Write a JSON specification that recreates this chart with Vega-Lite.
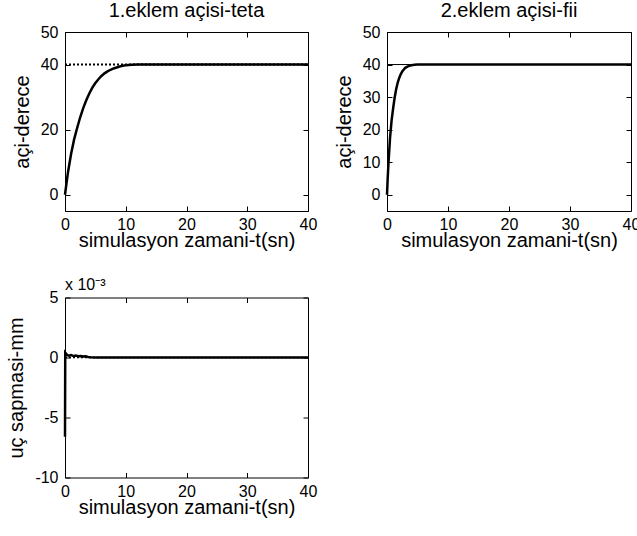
{
  "$schema": "https://vega.github.io/schema/vega-lite/v6.json",
  "background": "white",
  "padding": {"left": 6, "top": 0, "right": 0, "bottom": 0},
  "config": {
    "font": "Liberation Sans",
    "view": {"stroke": "black", "strokeWidth": 1},
    "axis": {"grid": false, "domain": false, "tickColor": "black", "tickSize": -5, "labelColor": "black", "labelFontSize": 16, "labelFont": "Liberation Sans", "titleFont": "Liberation Sans", "titleFontSize": 20, "titleFontWeight": "normal", "titleColor": "black", "labelPadding": 12, "labelFlush": false, "labelOverlap": false, "labelExpr": "'' + datum.value"},
    "axisX": {"titlePadding": -2, "labelPadding": 10.5},
    "axisY": {"titlePadding": 8},
    "title": {"fontSize": 20, "fontWeight": "normal", "color": "black", "font": "Liberation Sans", "offset": 3.5, "frame": "group"}
  },
  "datasets": {
    "teta": [
      {"t": 0, "v": 40, "s": "ref"}, {"t": 40, "v": 40, "s": "ref"},
      {"t": 0, "v": 0, "s": "out"}, {"t": 0.25, "v": 3.6, "s": "out"}, {"t": 0.5, "v": 7.0, "s": "out"}, {"t": 1, "v": 12.5, "s": "out"}, {"t": 1.5, "v": 17.0, "s": "out"}, {"t": 2, "v": 20.5, "s": "out"}, {"t": 2.5, "v": 23.8, "s": "out"}, {"t": 3, "v": 26.6, "s": "out"}, {"t": 3.5, "v": 29.0, "s": "out"}, {"t": 4, "v": 31.1, "s": "out"}, {"t": 4.5, "v": 32.9, "s": "out"}, {"t": 5, "v": 34.3, "s": "out"}, {"t": 5.5, "v": 35.5, "s": "out"}, {"t": 6, "v": 36.5, "s": "out"}, {"t": 6.5, "v": 37.3, "s": "out"}, {"t": 7, "v": 37.9, "s": "out"}, {"t": 7.5, "v": 38.4, "s": "out"}, {"t": 8, "v": 38.8, "s": "out"}, {"t": 8.5, "v": 39.1, "s": "out"}, {"t": 9, "v": 39.4, "s": "out"}, {"t": 9.5, "v": 39.6, "s": "out"}, {"t": 10, "v": 39.75, "s": "out"}, {"t": 10.5, "v": 39.85, "s": "out"}, {"t": 11, "v": 39.92, "s": "out"}, {"t": 12, "v": 40, "s": "out"}, {"t": 20, "v": 40, "s": "out"}, {"t": 30, "v": 40, "s": "out"}, {"t": 40, "v": 40, "s": "out"}
    ],
    "fii": [
      {"t": 0, "v": 40, "s": "ref"}, {"t": 40, "v": 40, "s": "ref"},
      {"t": 0, "v": 0, "s": "out"}, {"t": 0.1, "v": 4.5, "s": "out"}, {"t": 0.25, "v": 10, "s": "out"}, {"t": 0.5, "v": 17.5, "s": "out"}, {"t": 0.75, "v": 22.8, "s": "out"}, {"t": 1, "v": 26.5, "s": "out"}, {"t": 1.25, "v": 29.8, "s": "out"}, {"t": 1.5, "v": 32.4, "s": "out"}, {"t": 1.75, "v": 34.4, "s": "out"}, {"t": 2, "v": 35.9, "s": "out"}, {"t": 2.25, "v": 37.0, "s": "out"}, {"t": 2.5, "v": 37.9, "s": "out"}, {"t": 3, "v": 39.0, "s": "out"}, {"t": 3.5, "v": 39.5, "s": "out"}, {"t": 4, "v": 39.8, "s": "out"}, {"t": 4.5, "v": 39.95, "s": "out"}, {"t": 5, "v": 40, "s": "out"}, {"t": 40, "v": 40, "s": "out"}
    ],
    "sapma": [
      {"t": 0, "v": 0, "s": "ref"}, {"t": 40, "v": 0, "s": "ref"},
      {"t": 0, "v": -6.6, "s": "out"}, {"t": 0.04, "v": 0.4, "s": "out"}, {"t": 0.2, "v": 0.3, "s": "out"}, {"t": 0.4, "v": 0.2, "s": "out"}, {"t": 0.7, "v": 0.15, "s": "out"}, {"t": 1.0, "v": 0.2, "s": "out"}, {"t": 1.4, "v": 0.12, "s": "out"}, {"t": 1.8, "v": 0.16, "s": "out"}, {"t": 2.2, "v": 0.1, "s": "out"}, {"t": 2.6, "v": 0.13, "s": "out"}, {"t": 3.0, "v": 0.08, "s": "out"}, {"t": 3.4, "v": 0.1, "s": "out"}, {"t": 3.8, "v": 0.05, "s": "out"}, {"t": 4.2, "v": 0.02, "s": "out"}, {"t": 5, "v": 0, "s": "out"}, {"t": 40, "v": 0, "s": "out"}
    ]
  },
  "columns": 2,
  "spacing": {"row": 24.5, "column": 15},
  "concat": [
    {
      "width": 243, "height": 179,
      "title": {"text": "1.eklem açisi-teta", "fontSize": 20, "frame": "group", "offset": 3.5},
      "data": {"name": "teta"},
      "resolve": {"axis": {"x": "independent", "y": "independent"}},
      "layer": [
        {
          "transform": [{"filter": "datum.s == 'ref'"}],
          "mark": {"type": "line", "color": "black", "strokeWidth": 2, "strokeDash": [2, 2]},
          "encoding": {
            "x": {"field": "t", "type": "quantitative", "scale": {"domain": [0, 40], "nice": false, "zero": false}, "axis": {"orient": "bottom", "values": [0, 10, 20, 30, 40], "title": "simulasyon zamani-t(sn)"}},
            "y": {"field": "v", "type": "quantitative", "scale": {"domain": [-5, 50], "nice": false, "zero": false}, "axis": {"orient": "left", "values": [0, 20, 40, 50], "title": "açi-derece"}}
          }
        },
        {
          "transform": [{"filter": "datum.s == 'out'"}],
          "mark": {"type": "line", "color": "black", "strokeWidth": 2.5},
          "encoding": {
            "x": {"field": "t", "type": "quantitative", "axis": {"orient": "top", "values": [0, 10, 20, 30, 40], "labels": false, "title": null}},
            "y": {"field": "v", "type": "quantitative", "axis": {"orient": "right", "values": [0, 20, 40, 50], "labels": false, "title": null}}
          }
        }
      ]
    },
    {
      "width": 244, "height": 179,
      "title": {"text": "2.eklem açisi-fii", "fontSize": 20, "frame": "group", "offset": 3.5},
      "data": {"name": "fii"},
      "resolve": {"axis": {"x": "independent", "y": "independent"}},
      "layer": [
        {
          "transform": [{"filter": "datum.s == 'ref'"}],
          "mark": {"type": "line", "color": "black", "strokeWidth": 1},
          "encoding": {
            "x": {"field": "t", "type": "quantitative", "scale": {"domain": [0, 40], "nice": false, "zero": false}, "axis": {"orient": "bottom", "values": [0, 10, 20, 30, 40], "title": "simulasyon zamani-t(sn)"}},
            "y": {"field": "v", "type": "quantitative", "scale": {"domain": [-5, 50], "nice": false, "zero": false}, "axis": {"orient": "left", "values": [0, 10, 20, 30, 40, 50], "title": "açi-derece"}}
          }
        },
        {
          "transform": [{"filter": "datum.s == 'out'"}],
          "mark": {"type": "line", "color": "black", "strokeWidth": 2.5},
          "encoding": {
            "x": {"field": "t", "type": "quantitative", "axis": {"orient": "top", "values": [0, 10, 20, 30, 40], "labels": false, "title": null}},
            "y": {"field": "v", "type": "quantitative", "axis": {"orient": "right", "values": [0, 10, 20, 30, 40, 50], "labels": false, "title": null}}
          }
        }
      ]
    },
    {
      "width": 243, "height": 180,
      "title": {"text": "x 10⁻³", "anchor": "start", "fontSize": 16, "frame": "group", "offset": -3},
      "data": {"name": "sapma"},
      "resolve": {"axis": {"x": "independent", "y": "independent"}},
      "layer": [
        {
          "transform": [{"filter": "datum.s == 'ref'"}],
          "mark": {"type": "line", "color": "black", "strokeWidth": 1.5, "strokeDash": [2, 2]},
          "encoding": {
            "x": {"field": "t", "type": "quantitative", "scale": {"domain": [0, 40], "nice": false, "zero": false}, "axis": {"orient": "bottom", "values": [0, 10, 20, 30, 40], "title": "simulasyon zamani-t(sn)"}},
            "y": {"field": "v", "type": "quantitative", "scale": {"domain": [-10, 5], "nice": false, "zero": false}, "axis": {"orient": "left", "values": [-10, -5, 0, 5], "title": "uç sapmasi-mm"}}
          }
        },
        {
          "transform": [{"filter": "datum.s == 'out'"}],
          "mark": {"type": "line", "color": "black", "strokeWidth": 2.5},
          "encoding": {
            "x": {"field": "t", "type": "quantitative", "axis": {"orient": "top", "values": [0, 10, 20, 30, 40], "labels": false, "title": null}},
            "y": {"field": "v", "type": "quantitative", "axis": {"orient": "right", "values": [-10, -5, 0, 5], "labels": false, "title": null}}
          }
        }
      ]
    }
  ]
}
